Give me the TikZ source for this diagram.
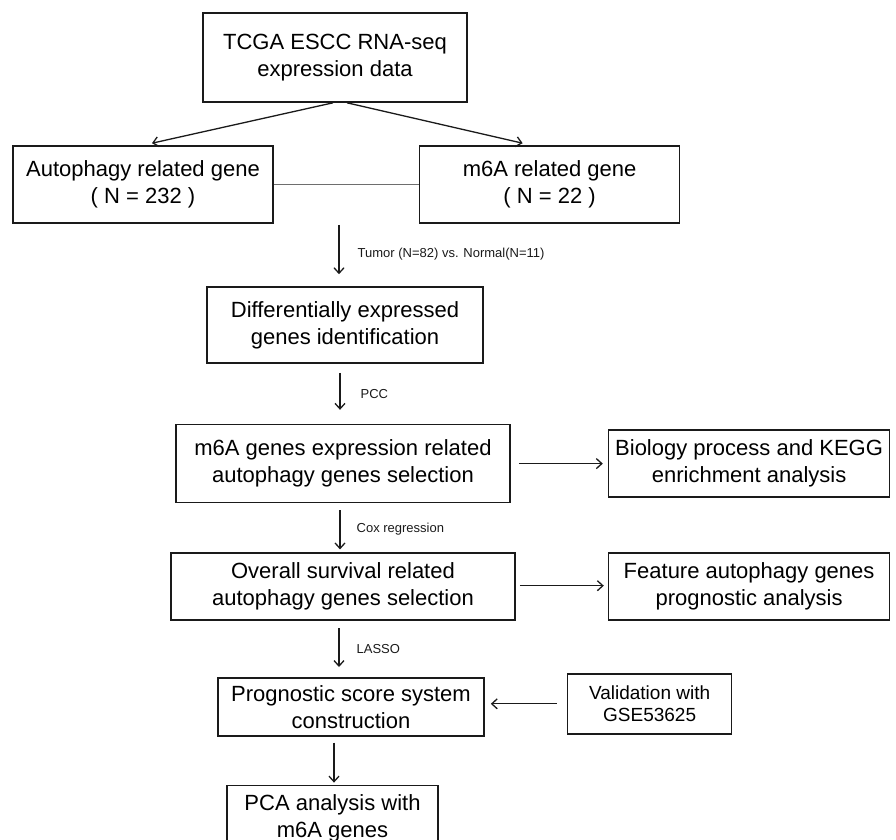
\documentclass[tikz,border=0pt]{standalone}
\usepackage{fontspec}
\setmainfont{Liberation Sans}
\usetikzlibrary{arrows.meta,positioning}
\definecolor{ink}{HTML}{1A1A1A}
\definecolor{rule}{HTML}{6E6E6E}
\tikzset{genebox/.style={draw=ink,line width=1.6pt,align=center,inner sep=2pt,
 font=\fontsize{22}{27}\selectfont},
 genearrow/.style={-{Straight Barb[length=5.5pt,width=10pt]},draw=ink,line width=1.3pt},
 genelabel/.style={font=\fontsize{13}{15}\selectfont,inner sep=0pt,text=ink}}

\begin{document}
\begin{tikzpicture}[x=1pt,y=1pt]
\useasboundingbox (0,0) rectangle (896,-839);
\clip (0,0) rectangle (896,-839);
\node[genebox,minimum width=264pt,minimum height=89pt] (tcga) at (335,-57.5) {TCGA ESCC RNA-seq\\expression data};
\node[genebox,minimum width=260pt,minimum height=77pt] (autoph) at (143,-184.5) {Autophagy related gene\\( N = 232 )};
\node[genebox,minimum width=260pt,minimum height=77pt,right=145pt of autoph] (msix) {m6A related gene\\( N = 22 )};
\node[genebox,minimum width=276pt,minimum height=76pt] (diffexp) at (345,-325) {Differentially expressed\\genes identification};
\node[genebox,minimum width=334pt,minimum height=78pt,below=60pt of diffexp,xshift=-2pt] (corsel) {m6A genes expression related\\autophagy genes selection};
\node[genebox,minimum width=281pt,minimum height=67pt,right=97pt of corsel] (bio) {Biology process and KEGG\\enrichment analysis};
\node[genebox,minimum width=344pt,minimum height=67pt,below=49pt of corsel] (surv) {Overall survival related\\autophagy genes selection};
\node[genebox,minimum width=281pt,minimum height=67pt,right=92pt of surv] (feat) {Feature autophagy genes\\prognostic analysis};
\node[genebox,minimum width=266pt,minimum height=58pt,below=56pt of surv,xshift=8pt] (prog) {Prognostic score system\\construction};
\node[genebox,minimum width=164pt,minimum height=60pt,right=82pt of prog,yshift=3pt,font=\fontsize{19}{22}\selectfont] (valid) {Validation with\\GSE53625};
\node[genebox,minimum width=211pt,minimum height=66pt,below=48pt of prog,xshift=-18.5pt] (pca) {PCA analysis with\\m6A genes};
% connectors
\draw[genearrow] ([xshift=-2pt]tcga.south) -- ([xshift=9pt,yshift=2pt]autoph.north);
\draw[genearrow] ([xshift=12pt]tcga.south) -- ([xshift=-27pt,yshift=2pt]msix.north);
\draw[rule,line width=1.5pt] (autoph) -- (msix);
\draw[genearrow] ([xshift=-6pt,yshift=-1pt]diffexp.north |- autoph.south) -- ([xshift=-6pt,yshift=12pt]diffexp.north) node[genelabel,pos=0.6,right=18pt] {Tumor (N=82) vs. Normal(N=11)};
\draw[genearrow] ([xshift=-5pt,yshift=-9pt]diffexp.south) -- ([xshift=-3pt,yshift=14pt]corsel.north) node[genelabel,pos=0.57,right=20pt] {PCC};
\draw[genearrow] ([xshift=-3pt,yshift=-7pt]corsel.south) -- ([xshift=-3pt,yshift=3pt]surv.north) node[genelabel,pos=0.49,right=16pt] {Cox regression};
\draw[genearrow] ([xshift=-4pt,yshift=-7pt]surv.south) -- ([xshift=-12pt,yshift=10pt]prog.north) node[genelabel,pos=0.54,right=17pt] {LASSO};
\draw[genearrow] ([xshift=-17pt,yshift=-6pt]prog.south) -- ([xshift=1.5pt,yshift=2pt]pca.north);
\draw[genearrow] ([xshift=8pt]corsel.east) -- ([xshift=-5pt]bio.west);
\draw[genearrow] ([xshift=4pt,yshift=1pt]surv.east) -- ([xshift=-4pt,yshift=1pt]feat.west);
\draw[genearrow] ([xshift=-10pt]valid.west) -- ([xshift=6pt]prog.east |- valid.west);
\end{tikzpicture}
\end{document}
